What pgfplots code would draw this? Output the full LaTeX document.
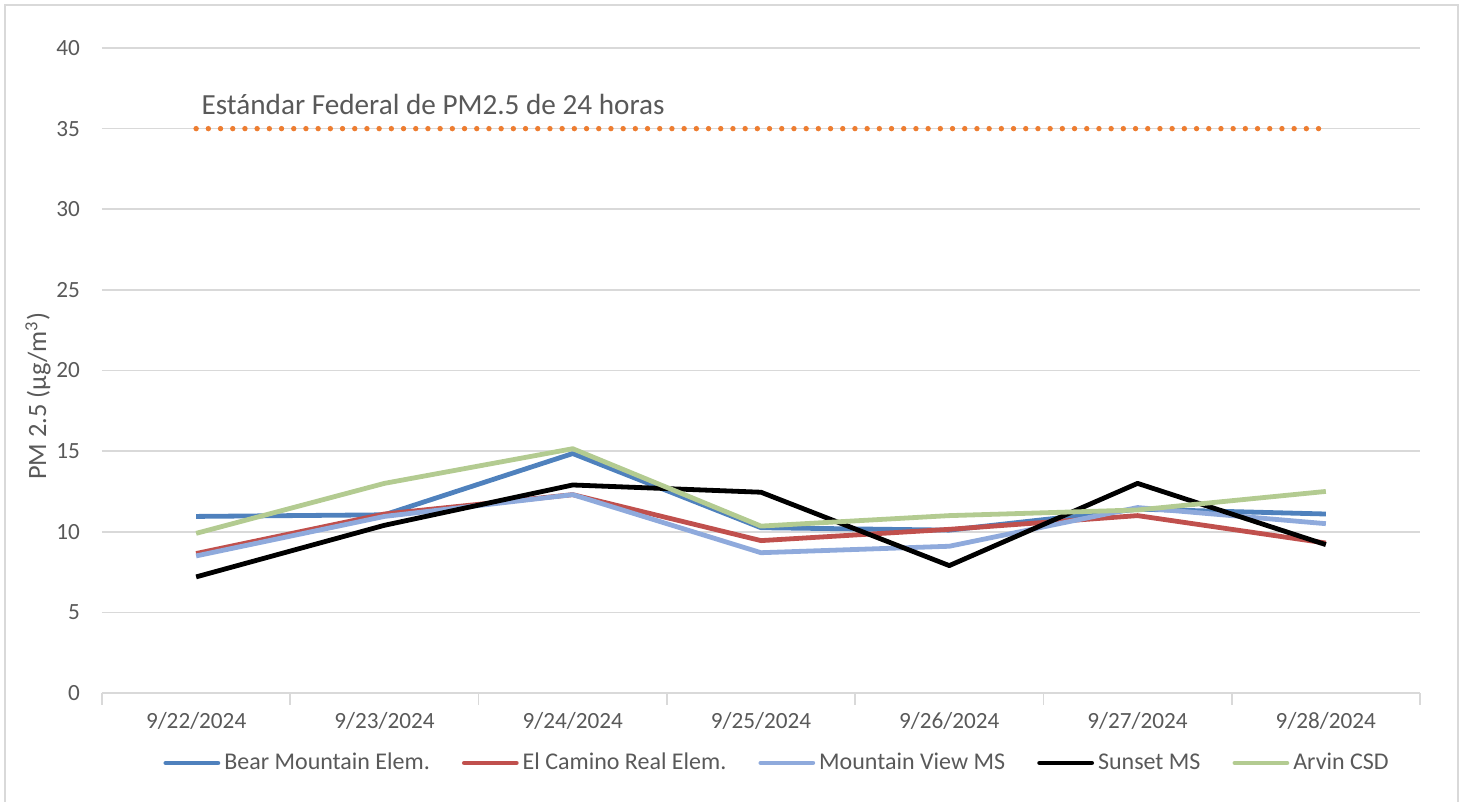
\documentclass[border=0pt]{standalone}
\usepackage{pgfplots}
\pgfplotsset{compat=1.18}
\usepackage{fontspec}
\setmainfont{Carlito}
\definecolor{txt}{HTML}{595959}
\definecolor{gridc}{HTML}{D9D9D9}
\definecolor{cBear}{HTML}{4F81BD}
\definecolor{cCam}{HTML}{C0504D}
\definecolor{cMV}{HTML}{8FAADC}
\definecolor{cSun}{HTML}{000000}
\definecolor{cArv}{HTML}{B3CB91}
\definecolor{cStd}{HTML}{ED7D31}
\begin{document}
\begin{tikzpicture}
\useasboundingbox (-51pt,-54.5pt) rectangle (680.5pt,346.5pt);
\draw[gridc, line width=0.8pt] (-48.5pt,-70pt) rectangle (678pt,344pt);
\begin{axis}[
  at={(0,0)}, anchor=south west,
  scale only axis,
  width=659pt, height=322.5pt,
  xmin=-0.5, xmax=6.5, ymin=0, ymax=40,
  xtick={0,1,2,3,4,5,6},
  xticklabels={9/22/2024,9/23/2024,9/24/2024,9/25/2024,9/26/2024,9/27/2024,9/28/2024},
  minor xtick={-0.5,0.5,1.5,2.5,3.5,4.5,5.5,6.5},
  ytick={0,5,10,15,20,25,30,35,40},
  ymajorgrids, grid style={gridc, line width=0.8pt},
  axis x line*=bottom, axis y line*=left,
  x axis line style={gridc, line width=0.8pt, -},
  y axis line style={draw=none},
  major x tick style={draw=none},
  minor x tick style={gridc, line width=0.8pt},
  minor tick length=6pt,
  xtick align=outside,
  ytick style={draw=none},
  major tick length=0pt,
  tick label style={font=\fontsize{11.6}{13}\selectfont, text=txt},
  /pgf/number format/assume math mode=true,
  yticklabel style={xshift=-7.5pt},
  xticklabel style={yshift=-6pt},
  ylabel={PM 2.5 (µg/m\textsuperscript{3})},
  ylabel style={at={(axis description cs:-0.0486,0.46)}, anchor=center, font=\fontsize{13.2}{15}\selectfont, text=txt},
  legend columns=5,
  legend style={at={(axis description cs:0.513,-0.1085)}, anchor=center, draw=none, fill=none,
    font=\fontsize{12}{14}\selectfont, text=txt,
    /tikz/every even column/.append style={column sep=14pt}},
  legend image code/.code={\draw[#1, line cap=round] (0pt,0pt) -- (26pt,0pt);},
  every axis plot/.append style={line width=2.4pt, line join=round},
]
\addplot[cStd, line width=2.7pt, line cap=round, dash pattern=on 0pt off 6.1pt, forget plot]
  coordinates {(0,35) (1,35) (2,35) (3,35) (4,35) (5,35) (6,35)};
\addplot[cBear] coordinates {(0,10.95) (1,11.05) (2,14.85) (3,10.25) (4,10.1) (5,11.4) (6,11.1)};
\addlegendentry{Bear Mountain Elem.}
\addplot[cCam] coordinates {(0,8.65) (1,11.1) (2,12.3) (3,9.45) (4,10.15) (5,11.0) (6,9.3)};
\addlegendentry{El Camino Real Elem.}
\addplot[cMV] coordinates {(0,8.5) (1,10.95) (2,12.3) (3,8.7) (4,9.1) (5,11.5) (6,10.5)};
\addlegendentry{Mountain View MS}
\addplot[cSun] coordinates {(0,7.2) (1,10.4) (2,12.9) (3,12.45) (4,7.9) (5,13.0) (6,9.2)};
\addlegendentry{Sunset MS}
\addplot[cArv] coordinates {(0,9.9) (1,13.0) (2,15.15) (3,10.35) (4,11.0) (5,11.35) (6,12.5)};
\addlegendentry{Arvin CSD}
\node[anchor=west, font=\fontsize{14.6}{16}\selectfont, text=txt, inner sep=0pt] at (axis cs:0.027,36.5) {Estándar Federal de PM2.5 de 24 horas};
\end{axis}
\end{tikzpicture}
\end{document}
